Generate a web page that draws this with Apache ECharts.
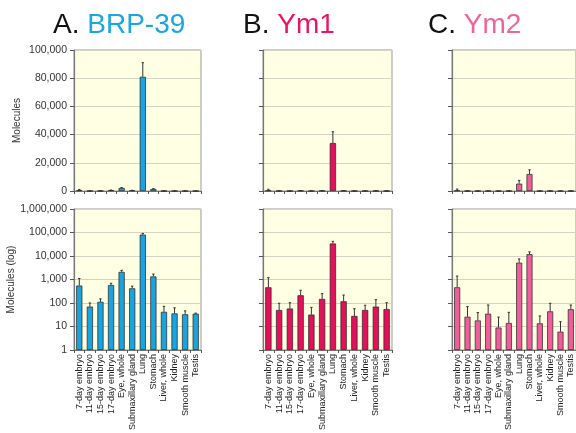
<!DOCTYPE html>
<html><head><meta charset="utf-8">
<script src="https://cdn.jsdelivr.net/npm/echarts@6/dist/echarts.min.js"></script>
<style>html,body{margin:0;padding:0;background:#fff}#c{width:576px;height:433px}</style>
</head><body><div id="c"></div>
<script>
const categories = ['7-day embryo','11-day embryo','15-day embryo','17-day embryo','Eye, whole','Submaxillary gland','Lung','Stomach','Liver, whole','Kidney','Smooth muscle','Testis'];
const brp39Values = [550, 70, 112, 580, 2100, 420, 81000, 1350, 42, 36, 33, 35];
const brp39Err    = [1100, 100, 150, 690, 2450, 520, 91000, 1700, 72, 62, 46, 37];
const ym1Values   = [465, 50, 58, 213, 32, 148, 34000, 118, 28, 50, 70, 55];
const ym1Err      = [1200, 97, 103, 347, 65, 250, 42000, 218, 57, 80, 138, 103];
const ym2Values   = [465, 26, 18, 35, 9, 14, 5200, 12000, 13.6, 44, 6, 54];
const ym2Err      = [1400, 70, 39, 82, 25, 40, 7500, 15000, 28, 97, 16, 82];
const linearTicks = [0, 20000, 40000, 60000, 80000, 100000];
const logTicks = [1, 10, 100, 1000, 10000, 100000, 1000000];

const FONT = 'Liberation Sans, Arial, sans-serif';
const panels = [
  {letter:'A. ', name:'BRP-39', color:'#1BA6E2', bar:'#1AA3DE', values:brp39Values, err:brp39Err, left:74, width:127, titleLeft:53, labels:true},
  {letter:'B. ', name:'Ym1', color:'#E8166A', bar:'#E3105C', values:ym1Values, err:ym1Err, left:263, width:129, titleLeft:243, labels:false},
  {letter:'C. ', name:'Ym2', color:'#F0649E', bar:'#EF5E9A', values:ym2Values, err:ym2Err, left:452, width:128, titleLeft:428, labels:false}
];
const fmt = v => Number(v).toLocaleString('en-US');

const grid = [], xAxis = [], yAxis = [], series = [], title = [];
panels.forEach((p, pi) => {
  title.push({text:'{k|' + p.letter + '}{c|' + p.name + '}', left:p.titleLeft, top:11, padding:0,
    textStyle:{fontWeight:'normal', rich:{k:{fontSize:28, fontWeight:'normal', fontFamily:FONT, color:'#111'}, c:{fontSize:28, fontWeight:'normal', fontFamily:FONT, color:p.color}}}});
  [0,1].forEach(row => {
    const gi = grid.length;
    grid.push({left:p.left, width:p.width, top: row===0 ? 50 : 209, height:141, show:true,
      backgroundColor:'#FFFFE3', borderColor:'#9a9a9a', borderWidth:1});
    xAxis.push({type:'category', gridIndex:gi, data:categories, boundaryGap:true,
      axisLine:{lineStyle:{color:'#777', width:1}},
      axisTick:{show:true, alignWithLabel:false, length:3, lineStyle:{color:'#555'}},
      axisLabel:{show: row===1, rotate:90, interval:0, fontSize:9, fontFamily:FONT, color:'#222', margin:4}});
    const yBase = {gridIndex:gi,
      axisLine:{show:true, lineStyle:{color:'#777', width:1.2}},
      axisTick:{show:true, length:4, lineStyle:{color:'#555'}},
      splitLine:{show:true, lineStyle:{color:'#D4D4C4', width:1}},
      axisLabel:{show:p.labels, fontSize:10.5, fontFamily:FONT, color:'#333', margin:7, formatter:fmt},
      nameLocation:'middle', nameGap:52,
      nameTextStyle:{fontSize:10, fontFamily:FONT, color:'#333'}};
    if (row === 0) {
      yAxis.push(Object.assign({}, yBase, {type:'value', min:linearTicks[0], max:linearTicks[linearTicks.length-1],
        interval:linearTicks[1]-linearTicks[0], name: p.labels ? 'Molecules' : ''}));
    } else {
      yAxis.push(Object.assign({}, yBase, {type:'log', logBase:10, min:logTicks[0], max:logTicks[logTicks.length-1],
        name: p.labels ? 'Molecules (log)' : ''}));
    }
    series.push({type:'bar', xAxisIndex:gi, yAxisIndex:gi, data:p.values, barWidth:'58%',
      itemStyle:{color:p.bar, borderColor:'#222', borderWidth:0.7}, animation:false, silent:true});
    series.push({type:'custom', xAxisIndex:gi, yAxisIndex:gi, animation:false, silent:true,
      encode:{x:0, y:[1,2]},
      data:p.values.map((v,i)=>[i, v, p.err[i]]),
      renderItem:(params, api) => {
        const a = api.coord([api.value(0), api.value(1)]);
        const b = api.coord([api.value(0), api.value(2)]);
        return {type:'group', children:[
          {type:'line', shape:{x1:a[0], y1:a[1], x2:b[0], y2:b[1]}, style:{stroke:'#333', lineWidth:1}},
          {type:'line', shape:{x1:b[0]-1.2, y1:b[1], x2:b[0]+1.2, y2:b[1]}, style:{stroke:'#333', lineWidth:1}}
        ]};
      }});
  });
});

const chart = echarts.init(document.getElementById('c'), null, {renderer:'canvas'});
chart.setOption({backgroundColor:'#fff', animation:false, title, grid, xAxis, yAxis, series});
</script></body></html>
